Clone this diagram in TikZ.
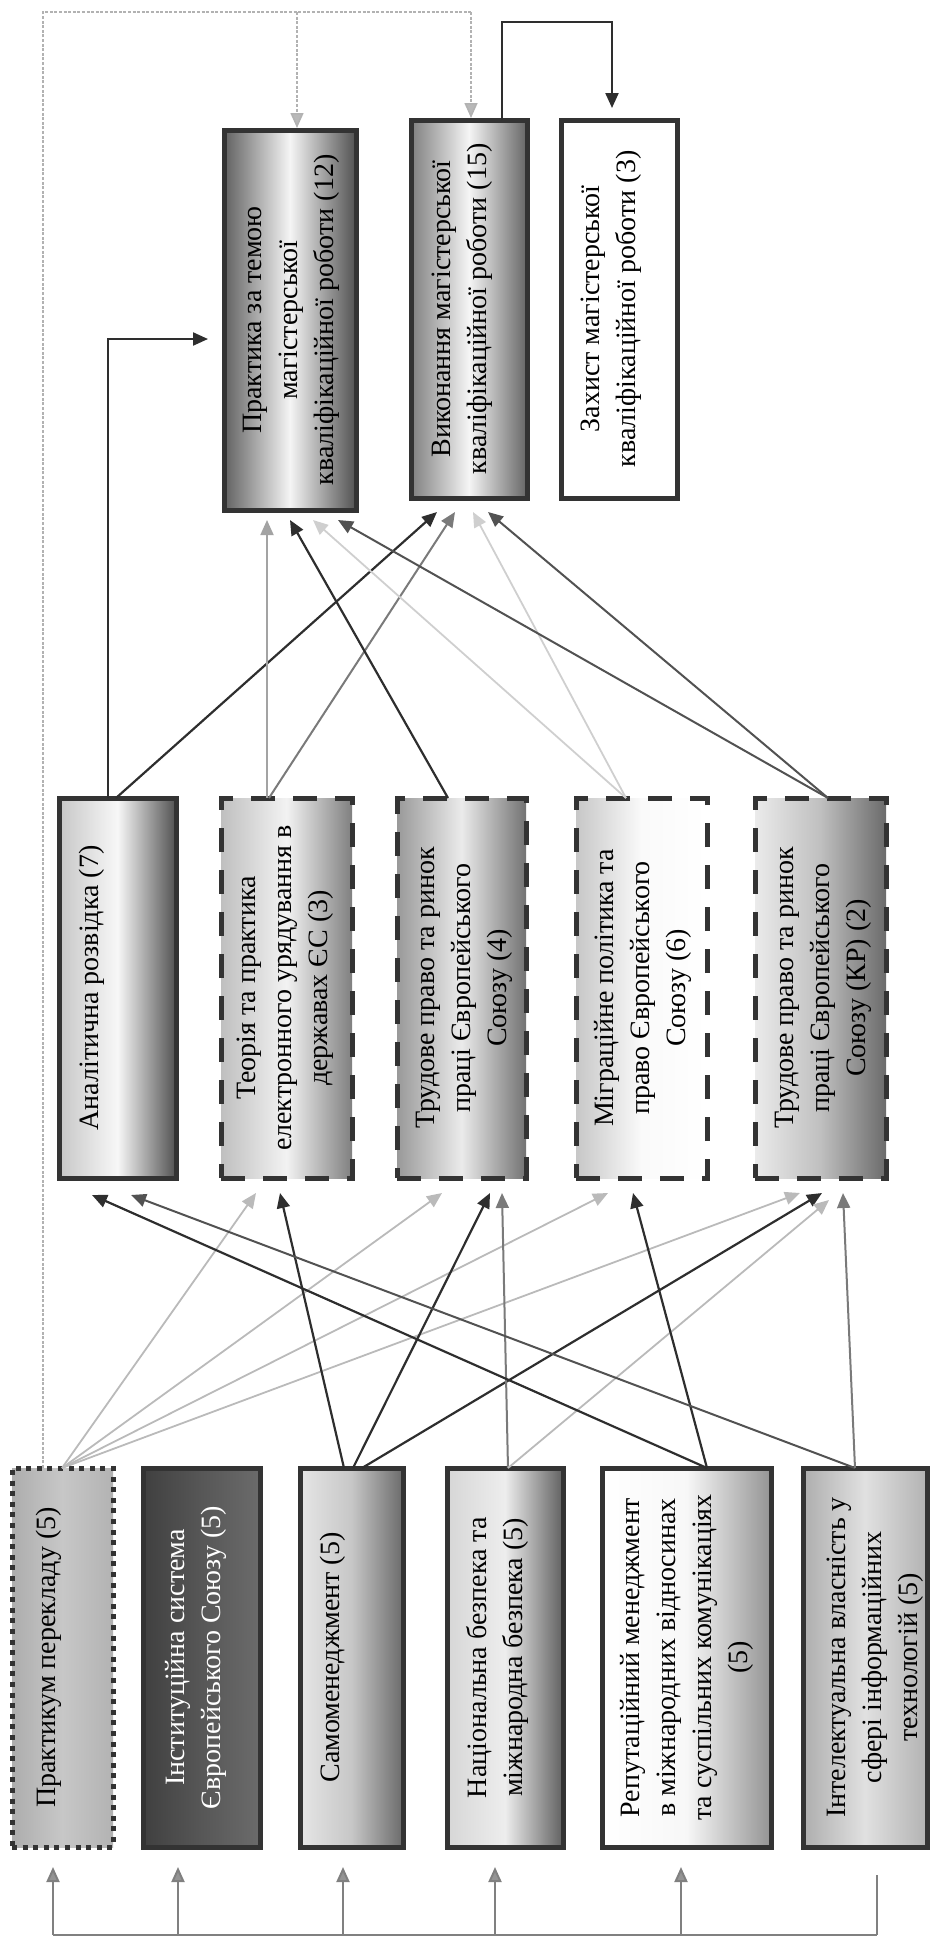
\documentclass[tikz,border=0pt]{standalone}
\usepackage{fontspec}
\setmainfont{Liberation Serif}
\usepackage{graphicx}
\usetikzlibrary{arrows.meta,calc}
\newcommand{\bt}[2]{\rotatebox{90}{\parbox[c][#1][t]{180pt}{\centering #2}}}
\begin{document}
\begin{tikzpicture}[x=0.5pt,y=-0.5pt,
  box/.style={line width=2.5pt, draw=black!80, inner sep=0pt, outer sep=0pt,
    font=\fontsize{14}{18}\selectfont, minimum height=190pt},
  solidbox/.style={box},
  dashbox/.style={box, dash pattern=on 12pt off 9pt},
  dotbox/.style={box, dash pattern=on 2.5pt off 2.8pt},
  tip/.style={-{Triangle[length=7.5pt,width=6.5pt]}},
  dk/.style={tip, draw=black!82, line width=1.1pt},
  dm/.style={tip, draw=black!68, line width=1pt},
  md/.style={tip, draw=black!52, line width=1pt},
  lg/.style={tip, draw=black!36, line width=0.9pt},
  lt/.style={tip, draw=black!27, line width=0.9pt},
  vlt/.style={tip, draw=black!19, line width=0.9pt},
  fb/.style={draw=black!30, line width=0.8pt, dash pattern=on 1.5pt off 0.8pt},
  fbarr/.style={fb, -{Triangle[length=7.5pt,width=6.5pt,fill=black!28]}, shorten >=1pt},
  bus/.style={draw=black!50, line width=1pt},
  busarr/.style={bus, -{Triangle[length=7.5pt,width=6.5pt,fill=black!42]}}
]
\useasboundingbox (0,0) rectangle (931,1939);

% ---------- top row ----------
\node[solidbox, minimum width=66pt, left color=black!62, right color=black!68, middle color=black!4] (prak12) at (290,320)
  {\bt{47pt}{Практика за темою\\магістерської\\кваліфікаційної роботи (12)}};
\node[solidbox, minimum width=58pt, minimum height=189pt, left color=black!50, right color=black!60, middle color=black!4] (vyk15) at (469,309)
  {\bt{37pt}{Виконання магістерської\\кваліфікаційної роботи (15)}};
\node[solidbox, minimum width=58pt, minimum height=189pt, fill=white] (zakh3) at (619,309)
  {\bt{38pt}{Захист магістерської\\кваліфікаційної роботи (3)}};

% ---------- middle row ----------
\node[solidbox, minimum width=58.5pt, left color=black!22, right color=black!68, middle color=black!3] (anal7) at (117.5,988)
  {\bt{38.5pt}{Аналітична розвідка (7)}};
\node[dashbox, minimum width=65.5pt, left color=black!25, right color=black!50, middle color=black!5] (teor3) at (286.5,988)
  {\bt{49.5pt}{Теорія та практика\\електронного урядування в\\державах ЄС (3)}};
\node[dashbox, minimum width=64.5pt, left color=black!40, right color=black!55, middle color=black!8] (trud4) at (461.5,988)
  {\bt{45.5pt}{Трудове право та ринок\\праці Європейського\\Союзу (4)}};
\node[dashbox, minimum width=65.5pt, left color=black!22, right color=white, middle color=black!2] (migr6) at (641.5,988)
  {\bt{47.5pt}{Міграційне політика та\\право Європейського\\Союзу (6)}};
\node[dashbox, minimum width=65.5pt, left color=black!8, right color=black!58, middle color=black!25] (trudkr) at (820.5,988)
  {\bt{45.5pt}{Трудове право та ринок\\праці Європейського\\Союзу (КР) (2)}};

% ---------- bottom row ----------
\node[dotbox, minimum width=50.5pt, minimum height=189.5pt, left color=black!32, right color=black!30, middle color=black!22] (prakt5) at (62.5,1657.5)
  {\bt{26.5pt}{Практикум перекладу (5)}};
\node[solidbox, minimum width=58.5pt, minimum height=189.5pt, left color=black!75, right color=black!58, middle color=black!66, text=white] (inst5) at (201.5,1657.5)
  {\bt{36.5pt}{Інституційна система\\Європейського Союзу (5)}};
\node[solidbox, minimum width=51.5pt, minimum height=189.5pt, left color=black!10, right color=black!58, middle color=black!22] (samo5) at (351.5,1657.5)
  {\bt{31.5pt}{Самоменеджмент (5)}};
\node[solidbox, minimum width=58pt, minimum height=189.5pt, left color=black!16, right color=black!62, middle color=black!7] (nats5) at (505,1657.5)
  {\bt{39pt}{Національна безпека та\\міжнародна безпека (5)}};
\node[solidbox, minimum width=84.5pt, minimum height=189.5pt, left color=white, right color=black!42, middle color=black!3] (repu5) at (686.5,1657.5)
  {\bt{66.5pt}{Репутаційний менеджмент\\в міжнародних відносинах\\та суспільних комунікаціях\\(5)}};
\node[solidbox, minimum width=62pt, minimum height=189.5pt, left color=black!32, right color=black!30, middle color=black!12] (intel5) at (865,1657.5)
  {\bt{38pt}{Інтелектуальна власність у\\сфері інформаційних\\технологій (5)}};

% ---------- bottom row -> middle row ----------
\draw[lt] ($(prakt5.north west)+(50,0)$) -- ($(teor3.south west)+(35,15)$);
\draw[lt] ($(prakt5.north west)+(50,0)$) -- ($(trud4.south west)+(45,15)$);
\draw[lt] ($(prakt5.north west)+(50,0)$) -- ($(migr6.south west)+(32,15)$);
\draw[lt] ($(prakt5.north west)+(50,0)$) -- ($(trudkr.south west)+(45,15)$);
\draw[dk] ($(samo5.north west)+(44,0)$) -- ($(teor3.south west)+(59,15)$);
\draw[dk] ($(samo5.north west)+(53,0)$) -- ($(trud4.south west)+(93,15)$);
\draw[dk] ($(samo5.north west)+(62,0)$) -- ($(trudkr.south west)+(67,15)$);
\draw[md] ($(nats5.north west)+(61,0)$) -- ($(trud4.south west)+(105,15)$);
\draw[lt] ($(nats5.north west)+(61,0)$) -- ($(trudkr.south west)+(74,22)$);
\draw[dk] ($(repu5.north west)+(105,0)$) -- ($(anal7.south west)+(33,17)$);
\draw[dk] ($(repu5.north west)+(105,0)$) -- ($(migr6.south west)+(57,15)$);
\draw[dm] ($(intel5.north west)+(52,0)$) -- ($(anal7.south west)+(72,17)$);
\draw[md] ($(intel5.north west)+(52,0)$) -- ($(trudkr.south west)+(88,15)$);

% ---------- middle row -> top row ----------
\draw[dk] ($(anal7.north west)+(49,0)$) |- ($(prak12.south west)+(-16,-171)$);
\draw[dk] ($(anal7.north west)+(57,0)$) -- ($(vyk15.south west)+(26,14)$);
\draw[lg] ($(teor3.north west)+(46,0)$) -- ($(prak12.south west)+(43,10)$);
\draw[md] ($(teor3.north west)+(48,0)$) -- ($(vyk15.south west)+(44,14)$);
\draw[dk] ($(trud4.north west)+(51,0)$) -- ($(prak12.south west)+(66,10)$);
\draw[vlt] ($(migr6.north west)+(50,0)$) -- ($(prak12.south west)+(89,10)$);
\draw[vlt] ($(migr6.north west)+(50,0)$) -- ($(vyk15.south west)+(62,14)$);
\draw[dm] ($(trudkr.north west)+(73,0)$) -- ($(prak12.south west)+(114,10)$);
\draw[dm] ($(trudkr.north west)+(73,0)$) -- ($(vyk15.south west)+(77,14)$);

% ---------- feedback line at the top ----------
\coordinate (fbL) at (43,12);
\coordinate (fbM) at (297,12);
\coordinate (fbR) at (471,12);
\draw[fb] ($(prakt5.north west)+(31,0)$) -- (fbL) -- (fbR);
\draw[fbarr] (fbM) -- (fbM |- prak12.north);
\draw[fbarr] (fbR) -- (fbR |- vyk15.north);

% ---------- Виконання -> Захист ----------
\coordinate (zkA) at (502,22);
\coordinate (zkB) at (612,22);
\draw[dk] ($(vyk15.north west)+(91,0)$) -- (zkA) -- (zkB) -- ($(zakh3.north west)+(51,-12)$);

% ---------- bus at the bottom ----------
\coordinate (bus1) at (53,1935);
\coordinate (bus2) at (178,1935);
\coordinate (bus3) at (343,1935);
\coordinate (bus4) at (495,1935);
\coordinate (bus5) at (681,1935);
\coordinate (bus6) at (877,1935);
\draw[bus] (bus1) -- (bus6);
\draw[busarr] (bus1) -- ($(prakt5.south west)+(41,20)$);
\draw[busarr] (bus2) -- ($(inst5.south west)+(35,20)$);
\draw[busarr] (bus3) -- ($(samo5.south west)+(43,20)$);
\draw[busarr] (bus4) -- ($(nats5.south west)+(48,20)$);
\draw[busarr] (bus5) -- ($(repu5.south west)+(79,20)$);
\draw[bus] (bus6) -- ($(intel5.south west)+(74,28)$);
\end{tikzpicture}
\end{document}
